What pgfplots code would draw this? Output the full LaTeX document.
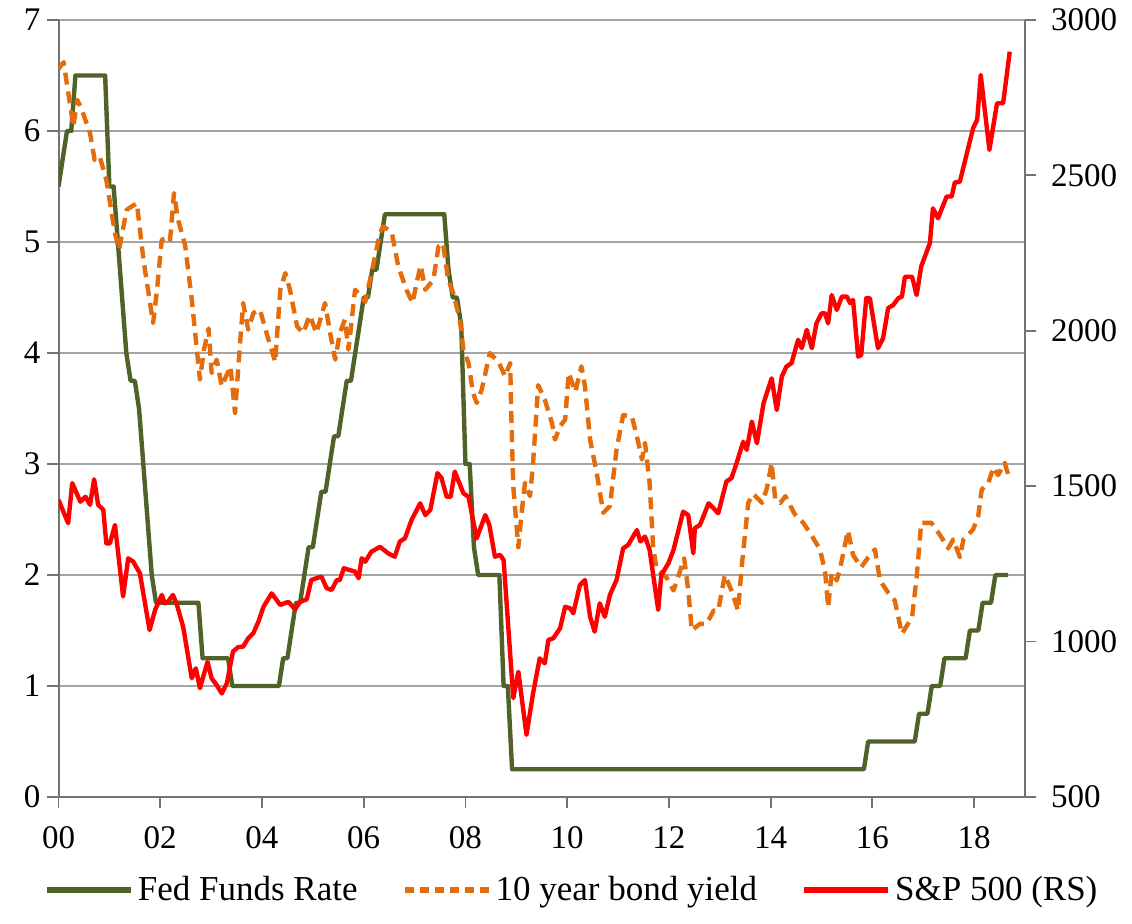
\documentclass[border=0pt]{standalone}
\usepackage{fontspec}
\setmainfont{Liberation Serif}
\usepackage{pgfplots}
\pgfplotsset{compat=1.18}
\definecolor{ffgreen}{RGB}{79,98,40}
\definecolor{bondorange}{RGB}{228,108,10}
\definecolor{gridgray}{RGB}{165,165,165}
\definecolor{axgray}{RGB}{115,115,115}
\begin{document}
\begin{tikzpicture}
\useasboundingbox (0,0) rectangle (566pt,462pt);
\pgfplotsset{
  common/.style={
    scale only axis, width=483.25pt, height=388.5pt,
    at={(29.25pt,63.5pt)}, anchor=south west,
    xmin=0, xmax=19,
    tick label style={font=\fontsize{16.5}{19}\selectfont},
    /pgf/number format/assume math mode=true,
    /pgf/number format/1000 sep={},
    scaled y ticks=false,
    tick align=outside, major tick length=5.5pt,
    tick style={axgray, line width=0.9pt},
    axis line style={axgray, line width=1pt},
  }
}
\begin{axis}[common,
  axis x line*=bottom, axis y line*=left,
  ymin=0, ymax=7, ytick={0,1,...,7},
  xtick={0,2,...,18},
  xticklabels={00,02,04,06,08,10,12,14,16,18},
  xticklabel style={yshift=-6pt},
  ymajorgrids, grid style={gridgray, line width=0.9pt},
]
\addplot[ffgreen, line width=2.2pt, line join=round] table {
x y
0.000 5.50
0.083 5.75
0.167 6.00
0.250 6.00
0.333 6.50
0.917 6.50
1.000 5.50
1.083 5.50
1.167 5.00
1.250 4.50
1.333 4.00
1.417 3.75
1.500 3.75
1.583 3.50
1.667 3.00
1.750 2.50
1.833 2.00
1.917 1.75
2.750 1.75
2.833 1.25
3.333 1.25
3.417 1.00
4.333 1.00
4.417 1.25
4.500 1.25
4.583 1.50
4.667 1.75
4.750 1.75
4.833 2.00
4.917 2.25
5.000 2.25
5.083 2.50
5.167 2.75
5.250 2.75
5.333 3.00
5.417 3.25
5.500 3.25
5.583 3.50
5.667 3.75
5.750 3.75
5.833 4.00
5.917 4.25
6.000 4.50
6.083 4.50
6.167 4.75
6.250 4.75
6.333 5.00
6.417 5.25
7.583 5.25
7.667 4.75
7.750 4.50
7.833 4.50
7.917 4.25
8.000 3.00
8.083 3.00
8.167 2.25
8.250 2.00
8.667 2.00
8.750 1.00
8.833 1.00
8.917 0.25
15.833 0.25
15.917 0.50
16.833 0.50
16.917 0.75
17.083 0.75
17.167 1.00
17.333 1.00
17.417 1.25
17.833 1.25
17.917 1.50
18.083 1.50
18.167 1.75
18.333 1.75
18.417 2.00
18.667 2.00
};
\addplot[bondorange, line width=2.2pt, dash pattern=on 6pt off 3.5pt, line join=round] table {
x y
0.00 6.56
0.10 6.62
0.26 6.14
0.29 6.04
0.37 6.28
0.46 6.19
0.62 5.98
0.71 5.74
0.81 5.77
0.94 5.56
1.11 5.08
1.19 4.93
1.34 5.29
1.54 5.35
1.67 4.84
1.77 4.54
1.86 4.27
1.93 4.54
2.03 5.02
2.09 5.03
2.19 5.00
2.27 5.44
2.35 5.20
2.49 4.97
2.62 4.48
2.72 4.03
2.78 3.76
2.86 4.03
2.95 4.22
3.01 3.82
3.11 3.94
3.21 3.70
3.38 3.88
3.47 3.46
3.56 4.03
3.63 4.45
3.73 4.21
3.83 4.36
3.96 4.39
4.09 4.18
4.26 3.92
4.36 4.57
4.46 4.72
4.55 4.57
4.69 4.24
4.81 4.18
4.94 4.34
5.07 4.18
5.24 4.45
5.34 4.18
5.44 3.94
5.53 4.18
5.63 4.30
5.70 4.03
5.83 4.57
6.03 4.46
6.18 4.78
6.32 5.08
6.38 5.14
6.55 5.09
6.68 4.78
6.84 4.57
6.96 4.45
7.04 4.63
7.12 4.79
7.21 4.57
7.37 4.66
7.47 4.96
7.56 4.99
7.66 4.66
7.76 4.54
7.89 4.30
7.96 4.03
8.06 3.91
8.15 3.64
8.22 3.55
8.32 3.67
8.48 4.00
8.65 3.92
8.78 3.79
8.88 3.91
8.90 3.46
8.94 2.80
9.04 2.25
9.10 2.54
9.17 2.83
9.27 2.71
9.33 3.01
9.43 3.71
9.56 3.58
9.70 3.37
9.76 3.22
9.86 3.34
9.96 3.40
10.03 3.82
10.16 3.65
10.28 3.88
10.35 3.70
10.45 3.22
10.58 2.92
10.71 2.56
10.84 2.62
10.97 3.13
11.10 3.44
11.27 3.43
11.37 3.25
11.47 3.04
11.53 3.19
11.62 2.83
11.69 2.25
11.76 2.05
11.95 1.98
12.09 1.86
12.18 1.98
12.30 2.15
12.38 1.86
12.45 1.50
12.61 1.56
12.74 1.56
12.88 1.68
12.97 1.68
13.10 2.00
13.23 1.86
13.36 1.68
13.43 2.07
13.56 2.65
13.66 2.73
13.83 2.65
13.92 2.77
14.02 3.01
14.09 2.68
14.19 2.65
14.29 2.71
14.47 2.55
14.64 2.47
14.80 2.36
14.97 2.23
15.07 2.03
15.13 1.71
15.20 2.02
15.30 1.95
15.37 2.07
15.52 2.40
15.62 2.18
15.78 2.07
15.92 2.16
16.05 2.23
16.15 1.95
16.31 1.84
16.44 1.77
16.58 1.47
16.78 1.62
16.87 1.98
16.96 2.47
17.16 2.47
17.33 2.36
17.49 2.24
17.59 2.32
17.72 2.16
17.79 2.32
17.98 2.41
18.08 2.53
18.15 2.77
18.28 2.83
18.38 2.97
18.47 2.90
18.60 3.01
18.70 2.86
};
\end{axis}
\begin{axis}[common,
  axis y line*=right, axis x line=none,
  ymin=500, ymax=3000, ytick={500,1000,...,3000},
  yticklabel style={xshift=4pt},
  legend columns=3,
  legend cell align=left,
  legend style={at={(0.532,-0.12)}, anchor=center, draw=none, fill=none,
    font=\fontsize{17.5}{20}\selectfont,
    /tikz/every even column/.append style={column sep=20pt}},
  legend image code/.code={\draw[#1, line width=3pt] (0pt,0pt) -- (42pt,0pt);},
]
\addlegendimage{ffgreen, line width=2pt}
\addlegendentry{Fed Funds Rate}
\addlegendimage{bondorange, line width=2pt, dash pattern=on 4.5pt off 3pt}
\addlegendentry{10 year bond yield}
\addplot[red, line width=2.2pt, line join=round] table {
x y
0.00 1456
0.19 1381
0.27 1510
0.43 1450
0.53 1466
0.62 1440
0.70 1522
0.78 1440
0.88 1424
0.94 1316
1.01 1316
1.11 1375
1.27 1145
1.37 1268
1.47 1257
1.60 1220
1.79 1037
1.90 1102
2.03 1150
2.09 1123
2.15 1128
2.25 1150
2.32 1123
2.45 1048
2.62 882
2.70 914
2.78 850
2.93 935
3.01 882
3.11 860
3.21 833
3.31 866
3.43 968
3.53 982
3.63 984
3.73 1011
3.83 1027
3.93 1064
4.03 1112
4.19 1155
4.36 1118
4.52 1128
4.65 1104
4.75 1128
4.88 1136
4.97 1198
5.07 1204
5.17 1209
5.27 1172
5.37 1166
5.47 1198
5.53 1198
5.61 1236
5.73 1230
5.83 1225
5.90 1204
5.96 1268
6.03 1257
6.15 1289
6.32 1305
6.48 1284
6.61 1273
6.71 1322
6.81 1332
6.94 1391
7.11 1445
7.21 1407
7.31 1424
7.45 1542
7.53 1526
7.63 1466
7.71 1466
7.79 1547
7.96 1477
8.06 1466
8.22 1332
8.39 1407
8.47 1375
8.58 1273
8.68 1279
8.75 1263
8.94 818
9.04 903
9.20 700
9.33 834
9.46 946
9.56 930
9.63 1005
9.73 1011
9.86 1043
9.96 1112
10.06 1107
10.12 1091
10.25 1182
10.35 1198
10.45 1080
10.54 1032
10.64 1123
10.74 1080
10.84 1150
10.97 1198
11.10 1300
11.20 1311
11.37 1359
11.44 1322
11.53 1338
11.62 1295
11.79 1102
11.85 1214
11.99 1252
12.09 1295
12.28 1418
12.38 1407
12.48 1284
12.51 1365
12.61 1375
12.78 1445
12.97 1413
13.13 1515
13.23 1526
13.33 1574
13.46 1643
13.53 1617
13.63 1708
13.73 1638
13.86 1767
14.02 1847
14.12 1745
14.22 1853
14.31 1885
14.41 1896
14.54 1971
14.61 1944
14.71 2003
14.81 1944
14.90 2024
15.00 2056
15.07 2056
15.13 2024
15.20 2115
15.30 2067
15.40 2110
15.50 2110
15.56 2089
15.62 2099
15.72 1917
15.78 1922
15.88 2105
15.95 2105
16.11 1944
16.21 1976
16.31 2073
16.41 2083
16.51 2105
16.58 2110
16.64 2174
16.78 2174
16.87 2115
16.96 2207
17.13 2282
17.19 2394
17.29 2362
17.46 2432
17.56 2432
17.62 2477
17.72 2480
17.98 2652
18.06 2679
18.13 2823
18.30 2582
18.45 2732
18.57 2732
18.70 2898
};
\addlegendentry{S\&P 500 (RS)}
\end{axis}
\end{tikzpicture}
\end{document}
